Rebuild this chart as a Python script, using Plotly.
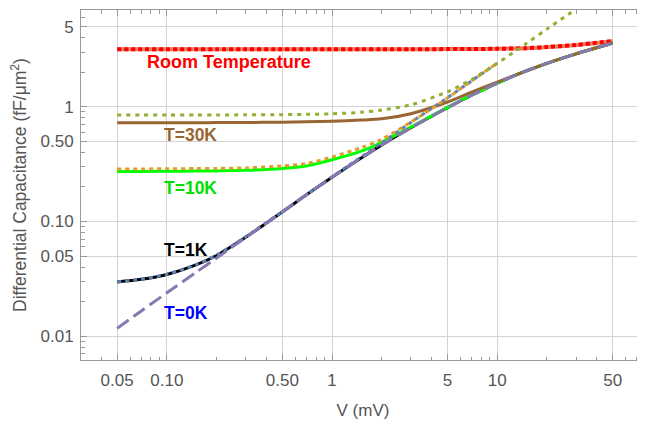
import numpy as np
import plotly.graph_objects as go

# ---- data ----
V = [0.05, 0.07, 0.1, 0.15, 0.2, 0.3, 0.5, 0.7, 1, 1.5, 2, 3, 5, 7, 10, 15, 20, 30, 50]
V_cq30 = [0.05, 0.07, 0.1, 0.15, 0.2, 0.3, 0.5, 0.7, 1, 1.5, 2, 3, 5, 7, 10, 15, 20, 30]
V_cq10 = [0.05, 0.07, 0.1, 0.15, 0.2, 0.3, 0.5, 0.7, 1, 1.5, 2, 3, 5, 7, 10]

C_room = [3.17, 3.17, 3.17, 3.17, 3.17, 3.17, 3.17, 3.17, 3.17, 3.17, 3.17, 3.175, 3.18, 3.19, 3.2, 3.24, 3.31, 3.46, 3.73]
C_30K = [0.725, 0.725, 0.725, 0.726, 0.727, 0.729, 0.733, 0.738, 0.748, 0.765, 0.785, 0.87, 1.1, 1.34, 1.64, 2.05, 2.39, 2.89, 3.59]
C_10K = [0.273, 0.273, 0.274, 0.275, 0.276, 0.279, 0.29, 0.305, 0.345, 0.41, 0.49, 0.665, 0.985, 1.26, 1.61, 2.05, 2.39, 2.89, 3.59]
C_1K = [0.0297, 0.0313, 0.0345, 0.0418, 0.0505, 0.0728, 0.121, 0.171, 0.243, 0.357, 0.465, 0.656, 0.982, 1.26, 1.61, 2.05, 2.39, 2.89, 3.59]
C_0K = [0.0117, 0.0166, 0.0239, 0.036, 0.048, 0.0725, 0.121, 0.171, 0.243, 0.357, 0.465, 0.656, 0.982, 1.26, 1.61, 2.05, 2.39, 2.89, 3.59]

Cq_1K = [0.0298, 0.0314, 0.0347, 0.042, 0.051, 0.0735, 0.122, 0.171, 0.245, 0.365, 0.485, 0.73, 1.2, 1.68, 2.4]
Cq_10K = [0.287, 0.287, 0.288, 0.289, 0.29, 0.293, 0.305, 0.32, 0.365, 0.44, 0.52, 0.735, 1.19, 1.68, 2.4]
Cq_30K = [0.846, 0.846, 0.846, 0.847, 0.848, 0.85, 0.853, 0.858, 0.868, 0.895, 0.935, 1.04, 1.35, 1.73, 2.39, 3.56, 4.75, 7.1]

x_ticks = [0.05, 0.1, 0.5, 1, 5, 10, 50]
x_ticktext = ["0.05", "0.10", "0.50", "1", "5", "10", "50"]
y_ticks = [0.01, 0.05, 0.1, 0.5, 1, 5]
y_ticktext = ["0.01", "0.05", "0.10", "0.50", "1", "5"]

labels = ["Room Temperature", "T=30K", "T=10K", "T=1K", "T=0K"]
label_x = [0.0738, 0.0931, 0.0931, 0.0931, 0.0931]
label_y = [2.47, 0.566, 0.195, 0.0562, 0.01596]
label_colors = ["#FF0000", "#996633", "#00E000", "#000000", "#0000FF"]
label_sizes = [18, 17.5, 17.5, 17.5, 17.5]

# ---- figure ----
fig = go.Figure()

def add(x, y, color, width, dash="solid"):
    fig.add_trace(go.Scatter(x=x, y=y, mode="lines",
                             line=dict(color=color, width=width, dash=dash, shape="spline", smoothing=0.8),
                             hoverinfo="skip", showlegend=False))

add(V, C_room, "#F07A62", 4)
add(V, C_room, "#FF0000", 4, "4px,3px")
add(V, C_1K, "#000000", 3)
add(V, C_10K, "#00FF00", 3)
add(V, C_30K, "#996633", 3)
add(V_cq10, Cq_1K, "#5E81B5", 3, "4px,4px")
add(V, C_0K, "#8778B3", 3, "14px,6px")
add(V_cq10, Cq_10K, "#E19C24", 3, "4px,4px")
add(V_cq30, Cq_30K, "#8FB032", 3, "4px,5px")

for t, lx, ly, c, s in zip(labels, label_x, label_y, label_colors, label_sizes):
    fig.add_annotation(x=np.log10(lx), y=np.log10(ly), xref="x", yref="y", text="<b>%s</b>" % t,
                       showarrow=False, xanchor="left", yanchor="middle",
                       font=dict(family="Liberation Sans, Arial", size=s, color=c))

def minor_vals(lo_exp, hi_exp, majors):
    vals = []
    for e in range(lo_exp, hi_exp + 1):
        for m in range(1, 10):
            v = round(m * 10.0 ** e, 10)
            if not any(abs(v - mj) < 1e-12 for mj in majors):
                vals.append(v)
    return vals

axis_common = dict(
    type="log", showline=True, linecolor="#9a9a9a", linewidth=1, mirror="ticks",
    ticks="inside", ticklen=6, tickcolor="#9a9a9a", tickwidth=1,
    showgrid=True, gridcolor="#d4d4d4", gridwidth=1, zeroline=False,
    tickfont=dict(family="Liberation Sans, Arial", size=17, color="#555555"),
)

fig.update_xaxes(**axis_common, range=[np.log10(0.0302), np.log10(78.5)],
                 tickmode="array", tickvals=x_ticks, ticktext=x_ticktext,
                 ticklabelstandoff=5,
                 minor=dict(tickmode="array", tickvals=minor_vals(-2, 1, x_ticks), ticks="inside",
                            ticklen=3.5, tickcolor="#9a9a9a", showgrid=False),
                 title=dict(text="V (mV)", font=dict(family="Liberation Sans, Arial", size=17, color="#555555"),
                            standoff=14))
fig.update_yaxes(**axis_common, range=[np.log10(0.0062), np.log10(6.97)],
                 tickmode="array", tickvals=y_ticks, ticktext=y_ticktext,
                 ticklabelstandoff=3,
                 minor=dict(tickmode="array", tickvals=minor_vals(-3, 0, y_ticks), ticks="inside",
                            ticklen=3.5, tickcolor="#9a9a9a", showgrid=False),
                 title=dict(text="Differential Capacitance (fF/\u03bcm<sup>2</sup>)",
                            font=dict(family="Liberation Sans, Arial", size=17.5, color="#555555"),
                            standoff=10))

# the page body adds an 8px margin, so the figure is sized to fit inside 645x422
fig.update_layout(width=637, height=414, margin=dict(l=73, r=0, t=2, b=62, autoexpand=False),
                  plot_bgcolor="white", paper_bgcolor="white")

fig.write_html("out.html")
